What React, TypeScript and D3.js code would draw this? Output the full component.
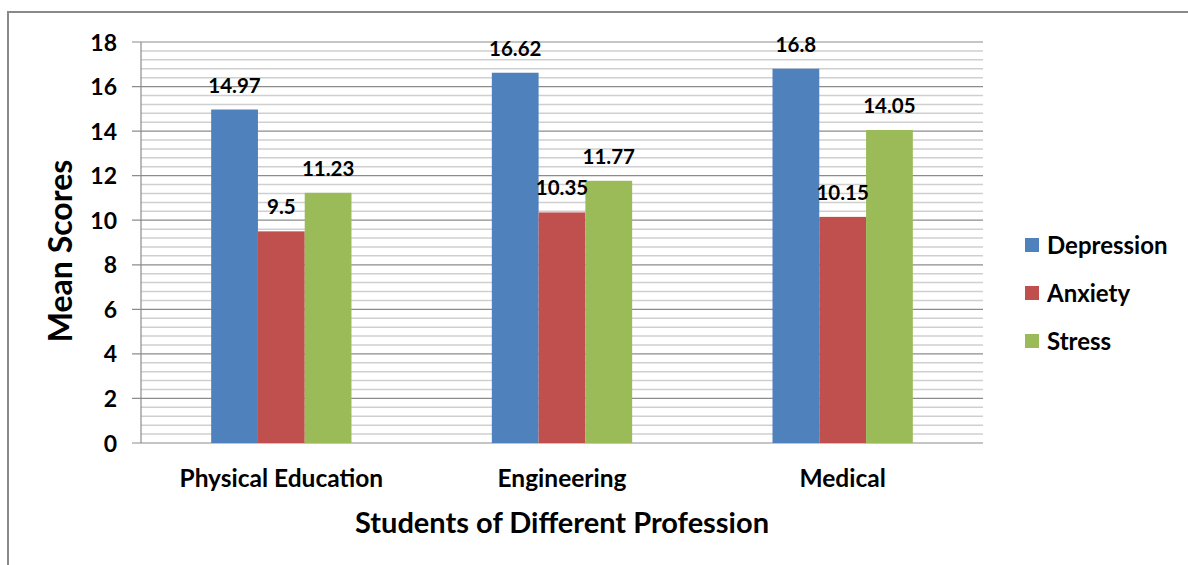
import React from "react";
import * as d3 from "d3";

const categories = ["Physical Education", "Engineering", "Medical"];
const seriesNames = ["Depression", "Anxiety", "Stress"];
const depression = [14.97, 16.62, 16.8];
const anxiety = [9.5, 10.35, 10.15];
const stress = [11.23, 11.77, 14.05];
const yTicks = [0, 2, 4, 6, 8, 10, 12, 14, 16, 18];
const colors = ["#4F81BD", "#C0504D", "#9BBB59"];

const W = 1188;
const H = 565;
const FONT = "Lato, 'Open Sans', sans-serif";

export default function App() {
  const series = [depression, anxiety, stress];
  const left = 141, right = 983, top = 42, bottom = 443;
  const y = d3.scaleLinear().domain([0, 18]).range([bottom, top]);
  const x0 = d3.scaleBand<string>().domain(categories).range([left, right]).padding(0);
  const x1 = d3
    .scaleBand<string>()
    .domain(seriesNames)
    .range([0, x0.bandwidth()])
    .paddingInner(0)
    .paddingOuter(1.5);
  const minor = d3.range(0, 18.0001, 0.4).filter((v) => Math.abs(v / 2 - Math.round(v / 2)) > 1e-6);

  return (
    <svg width={W} height={H} style={{ position: "absolute", left: 0, top: 0, background: "#fff" }} fontFamily={FONT}>
      {/* chart border */}
      <rect x={8} y={12} width={W + 10} height={H + 10} fill="#fff" stroke="#898989" strokeWidth={2} />
      {/* minor gridlines */}
      {minor.map((v, i) => (
        <line key={"m" + i} x1={left} x2={right} y1={y(v)} y2={y(v)} stroke="#cfcfcf" strokeWidth={1.5} />
      ))}
      {/* major gridlines */}
      {yTicks.map((v) => (
        <line key={"g" + v} x1={left - 9} x2={right} y1={y(v)} y2={y(v)} stroke="#8c8c8c" strokeWidth={1.2} />
      ))}
      {/* y axis line */}
      <line x1={left} x2={left} y1={top} y2={bottom} stroke="#8c8c8c" strokeWidth={1.2} />
      {/* bars */}
      {categories.map((c, ci) =>
        seriesNames.map((s, si) => {
          const v = series[si][ci];
          return (
            <rect
              key={c + s}
              x={(x0(c) as number) + (x1(s) as number)}
              y={y(v)}
              width={x1.bandwidth()}
              height={y(0) - y(v)}
              fill={colors[si]}
            />
          );
        })
      )}
      {/* data labels */}
      {categories.map((c, ci) =>
        seriesNames.map((s, si) => {
          const v = series[si][ci];
          return (
            <text
              key={"l" + c + s}
              x={(x0(c) as number) + (x1(s) as number) + x1.bandwidth() / 2}
              y={y(v) - 17}
              textAnchor="middle"
              fontSize={20.5}
              fontWeight="bold"
              fill="#000"
            >
              {String(v)}
            </text>
          );
        })
      )}
      {/* y tick labels */}
      {yTicks.map((v) => (
        <text key={"t" + v} x={117} y={y(v) + 8.5} textAnchor="end" fontSize={23} fontWeight="bold" fill="#000">
          {v}
        </text>
      ))}
      {/* category labels */}
      {categories.map((c) => (
        <text
          key={"c" + c}
          x={(x0(c) as number) + x0.bandwidth() / 2}
          y={487}
          textAnchor="middle"
          fontSize={24.5}
          fontWeight="bold"
          fill="#000"
        >
          {c}
        </text>
      ))}
      {/* axis titles */}
      <text x={(left + right) / 2} y={533} textAnchor="middle" fontSize={29} fontWeight="bold" fill="#000">
        Students of Different Profession
      </text>
      <text
        transform={`translate(72,251) rotate(-90)`}
        textAnchor="middle"
        fontSize={32}
        fontWeight="bold"
        fill="#000"
      >
        Mean Scores
      </text>
      {/* legend */}
      {seriesNames.map((s, i) => (
        <g key={"lg" + s} transform={`translate(1025,${245 + i * 48})`}>
          <rect x={0} y={-7} width={14} height={14} fill={colors[i]} />
          <text x={22} y={8.5} fontSize={24} fontWeight="bold" fill="#000">
            {s}
          </text>
        </g>
      ))}
    </svg>
  );
}
